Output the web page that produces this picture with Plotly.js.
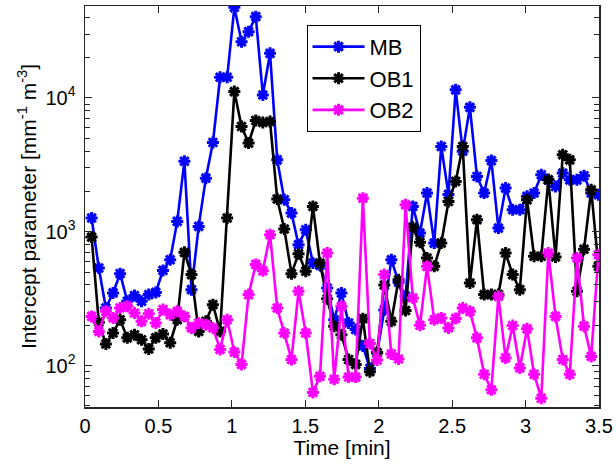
<!DOCTYPE html>
<html>
<head>
<meta charset="utf-8">
<script src="https://cdn.plot.ly/plotly-3.0.1.min.js"></script>
<style>
  html, body { margin: 0; padding: 0; background: #fff; }
  #chart { width: 616px; height: 465px; }
</style>
</head>
<body>
<div id="chart"></div>
<script>
// Time [min]
const time = [0.045, 0.094, 0.142, 0.191, 0.239, 0.288, 0.337, 0.385, 0.434, 0.482,
  0.531, 0.580, 0.628, 0.677, 0.725, 0.774, 0.823, 0.871, 0.920, 0.968,
  1.017, 1.066, 1.114, 1.163, 1.211, 1.260, 1.309, 1.357, 1.406, 1.454,
  1.503, 1.552, 1.600, 1.649, 1.697, 1.746, 1.795, 1.843, 1.892, 1.940,
  1.989, 2.038, 2.086, 2.135, 2.183, 2.232, 2.281, 2.329, 2.378, 2.426,
  2.475, 2.524, 2.572, 2.621, 2.669, 2.718, 2.767, 2.815, 2.864, 2.912,
  2.961, 3.010, 3.058, 3.107, 3.155, 3.204, 3.253, 3.301, 3.350, 3.398,
  3.447, 3.496];

const mb = [1265, 536, 269, 349, 486, 302, 333, 302, 339, 352,
  514, 618, 1194, 3365, 369, 1096, 2513, 4645, 14260, 14260,
  47560, 26300, 31260, 40460, 10520, 21530, 3443, 1734, 1378, 800,
  1035, 583, 560, 380, 220, 348, 208, 186, 140, 95,
  124, 260, 618, 420, 330, 1545, 977, 1945, 822, 4336,
  1900, 11480, 4000, 8500, 2588, 1944, 3400, 1064, 2118, 1459,
  1459, 1837, 1945, 2663, 2441, 2178, 2742, 2441, 2441, 2618,
  1945, 1888];

const ob1 = [912, 211, 145, 175, 220, 161, 170, 156, 133, 161,
  172, 148, 220, 701, 478, 180, 214, 285, 180, 1265,
  11140, 6110, 4592, 6780, 6545, 6660, 1754, 1047, 486, 685,
  506, 1545, 583, 315, 197, 170, 111, 102, 224, 90,
  125, 400, 214, 438, 258, 1080, 835, 636, 551, 822,
  1683, 2376, 4336, 414, 1230, 339, 339, 339, 693, 478,
  369, 1734, 655, 655, 2441, 647, 3758, 3443, 359, 740,
  2056, 551];

const ob2 = [233, 180, 254, 227, 269, 277, 247, 214, 244, 208,
  262, 240, 254, 233, 191, 208, 202, 191, 132, 220,
  126, 102, 339, 570, 510, 951, 269, 175, 111, 359,
  175, 63, 83, 693, 79, 277, 82, 82, 1782, 146,
  110, 478, 122, 112, 1589, 320, 200, 551, 220, 227,
  191, 225, 269, 254, 161, 86, 66, 329, 114, 199,
  96, 188, 86, 57, 693, 233, 111, 86, 636, 197,
  117, 673];

const seriesNames = ['MB', 'OB1', 'OB2'];
const seriesColors = ['#0000FF', '#000000', '#FF00FF'];

const xTickVals = [0, 0.5, 1, 1.5, 2, 2.5, 3, 3.5];
const xTickText = ['0', '0.5', '1', '1.5', '2', '2.5', '3', '3.5'];
const yTickVals = [100, 1000, 10000];
const yTickText = ['10<sup>2</sup>', '10<sup>3</sup>', '10<sup>4</sup>'];
const yMinorVals = [50, 60, 70, 80, 90, 200, 300, 400, 500, 600, 700, 800, 900,
  2000, 3000, 4000, 5000, 6000, 7000, 8000, 9000, 20000, 30000, 40000];

const FONT = 'Liberation Sans, Arial, Helvetica, sans-serif';

const traces = [mb, ob1, ob2].map((vals, i) => ({
  type: 'scatter',
  mode: 'lines+markers',
  x: time,
  y: vals,
  name: seriesNames[i],
  line: { color: seriesColors[i], width: 2.6 },
  marker: {
    symbol: 'asterisk-open',
    size: 10,
    color: seriesColors[i],
    line: { color: seriesColors[i], width: 3 }
  }
}));

const axisCommon = {
  showline: true,
  linecolor: '#262626',
  linewidth: 1.5,
  mirror: 'ticks',
  ticks: 'inside',
  ticklen: 7,
  tickwidth: 1,
  tickcolor: '#262626',
  showgrid: false,
  zeroline: false,
  tickfont: { family: FONT, size: 20, color: '#000' }
};

const layout = {
  width: 616,
  height: 465,
  margin: { l: 85, r: 17, t: 6, b: 58 },
  paper_bgcolor: '#fff',
  plot_bgcolor: '#fff',
  font: { family: FONT, size: 21, color: '#000' },
  showlegend: true,
  legend: {
    x: 0.431, y: 0.953, xanchor: 'left', yanchor: 'top',
    bgcolor: '#fff', bordercolor: '#000', borderwidth: 1,
    font: { family: FONT, size: 22, color: '#000' },
    itemwidth: 52,
    tracegroupgap: 0
  },
  xaxis: Object.assign({}, axisCommon, {
    range: [0, 3.5],
    tickmode: 'array',
    tickvals: xTickVals,
    ticktext: xTickText,
    title: { text: 'Time [min]', font: { family: FONT, size: 21, color: '#000' }, standoff: 0 }
  }),
  yaxis: Object.assign({}, axisCommon, {
    type: 'log',
    range: [Math.log10(49), Math.log10(48600)],
    tickmode: 'array',
    tickvals: yTickVals,
    ticktext: yTickText,
    ticklabelstandoff: 4,
    minor: { tickmode: 'array', tickvals: yMinorVals, ticks: 'inside', ticklen: 5, tickcolor: '#262626', showgrid: false },
    title: { text: 'Intercept parameter [mm<sup>-1</sup> m<sup>-3</sup>]', font: { family: FONT, size: 21, color: '#000' }, standoff: 3 }
  })
};

Plotly.newPlot('chart', traces, layout, { displayModeBar: false, staticPlot: true });
</script>
</body>
</html>
